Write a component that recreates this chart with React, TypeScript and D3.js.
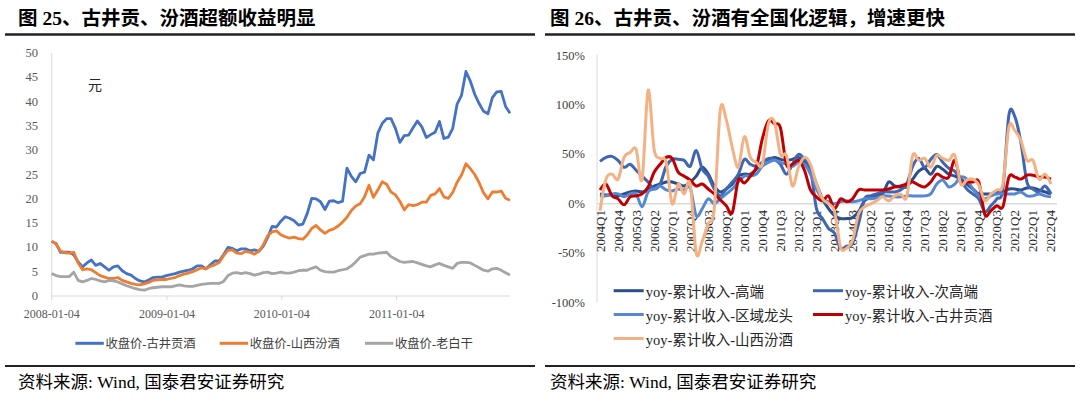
import React from 'react';
import * as d3 from 'd3';

// ---------------- Left chart data (biweekly closing prices, 元) ----------------
const priceStartDate = '2008-01-04';
const priceEndDate = '2011-12-30';
const priceTickLabels = ['2008-01-04', '2009-01-04', '2010-01-04', '2011-01-04'];
const priceYTicks = [0, 5, 10, 15, 20, 25, 30, 35, 40, 45, 50];
const priceSeriesNames = ['收盘价-古井贡酒', '收盘价-山西汾酒', '收盘价-老白干'];

const gujingPrice = [
  11.2, 10.8, 9.0, 9.0, 9.0, 8.5, 7.0, 6.0, 6.8, 7.4, 6.3, 6.7, 6.0, 5.3, 6.0, 6.2,
  5.2, 4.6, 4.3, 3.6, 3.1, 2.9, 3.3, 3.8, 3.9, 3.9, 4.2, 4.4, 4.6, 4.9, 5.1, 5.3,
  5.6, 6.2, 6.2, 5.6, 6.4, 7.2, 7.2, 8.5, 10.0, 9.8, 9.3, 9.7, 9.7, 9.3, 9.5, 9.2,
  10.2, 12.0, 14.3, 14.2, 15.4, 16.3, 16.0, 15.5, 14.6, 14.8, 17.0, 20.1, 20.0, 19.4,
  17.8, 19.5, 19.6, 19.2, 19.5, 26.3, 24.6, 23.5, 25.2, 25.5, 29.0, 28.0, 33.5, 35.5,
  36.5, 36.5, 34.5, 31.6, 33.0, 33.1, 34.6, 36.0, 34.8, 32.6, 33.2, 33.7, 35.9, 32.4,
  32.7, 34.5, 39.5, 41.3, 46.2, 44.2, 41.5, 39.6, 38.0, 37.5, 40.8, 42.0, 42.1, 39.0, 37.6,
];
const fenjiuPrice = [
  11.3, 10.7, 9.2, 8.9, 8.8, 9.0, 6.8, 5.4, 5.6, 5.4, 4.8, 4.2, 3.9, 3.6, 3.6, 3.8,
  3.2, 2.9, 2.6, 2.4, 2.3, 2.5, 2.8, 3.2, 3.3, 3.4, 3.4, 3.6, 3.8, 4.2, 4.5, 4.7,
  5.0, 5.4, 5.8, 5.6, 6.1, 6.4, 6.9, 8.3, 9.4, 9.5, 8.8, 8.7, 9.2, 9.0, 8.6, 9.2,
  10.5, 12.4, 13.2, 13.4, 12.6, 12.2, 11.9, 12.1, 11.8, 11.7, 12.6, 13.9, 14.5, 13.6,
  12.9, 13.5, 13.8, 14.4, 15.2, 16.2, 17.6, 18.5, 19.0, 20.4, 22.8, 20.3, 21.8, 23.5,
  23.0, 21.4, 20.8, 19.5, 17.7, 18.8, 18.6, 18.8, 19.3, 19.3, 20.7, 21.0, 22.1, 20.4,
  20.1, 21.3, 23.4, 24.9, 27.2, 26.2, 25.0, 23.3, 21.2, 20.0, 21.4, 21.4, 21.6, 20.1, 19.7,
];
const laobaiganPrice = [
  4.6, 4.2, 4.0, 4.0, 4.0, 4.9, 3.2, 2.9, 3.2, 3.6, 3.4, 3.1, 2.9, 3.2, 3.1, 2.9,
  2.5, 2.1, 1.8, 1.5, 1.3, 1.2, 1.5, 1.7, 1.8, 1.9, 1.9, 1.9, 2.1, 2.3, 2.1, 2.0,
  2.0, 2.2, 2.4, 2.5, 2.6, 2.6, 2.6, 3.0, 4.2, 4.7, 4.8, 4.6, 4.8, 4.6, 4.3, 4.5,
  4.8, 4.9, 4.6, 4.7, 4.9, 4.7, 4.7, 4.9, 5.2, 5.3, 5.3, 5.7, 6.0, 5.3,
  5.0, 4.9, 4.9, 5.2, 5.4, 5.6, 6.2, 7.0, 8.0, 8.3, 8.6, 8.6, 8.8, 8.9,
  9.0, 8.1, 7.6, 7.1, 6.9, 7.0, 7.1, 6.8, 6.5, 6.2, 6.0, 6.4, 6.7, 6.3,
  6.0, 5.7, 6.7, 6.9, 6.9, 6.8, 6.3, 5.8, 5.3, 5.1, 5.6, 5.7, 5.3, 4.8, 4.3,
];

// ---------------- Right chart data (quarterly cumulative revenue yoy, %) ----------------
const yoyYears = d3.range(2004, 2023);
const yoyQuarterNames = ['Q1', 'Q2', 'Q3', 'Q4'];
const yoyYTicks = [-100, -50, 0, 50, 100, 150];
const yoySeriesNames = [
  'yoy-累计收入-高端',
  'yoy-累计收入-次高端',
  'yoy-累计收入-区域龙头',
  'yoy-累计收入-古井贡酒',
  'yoy-累计收入-山西汾酒',
];
const yoyHighEnd = [
  10, 9, 9, 8, 10, 12, 13, 12, 14, 18, 20, 22, 22, 20, 18, 22,
  28, 37, 30, 18, 12, 15, 20, 28, 30, 30, 35, 42, 45, 47, 45, 44,
  45, 47, 42, 35, 20, 5, -5, -12, -15, -15, -14, -8, 3, 6, 8, 10,
  22, 18, 17, 17, 25, 33, 36, 30, 38, 35, 30, 28, 25, 20, 15, 10,
  10, 10, 12, 12, 15, 15, 14, 16, 16, 14, 12, 10,
];
const yoySubHighEnd = [
  43, 47, 48, 44, 37, 40, 34, 28, 22, 15, 20, 38, 45, 45, 44, 38,
  54, 35, 28, 15, 8, 15, 22, 30, 45, 40, 38, 42, 46, 45, 40, 30,
  40, 50, 45, 35, -5, -15, -25, -30, -45, -43, -40, -20, 5, 8, 10, 12,
  12, 12, 14, 20, 38, 46, 37, 45, 50, 42, 36, 33, 24, 15, 10, 5,
  -8, -2, 5, 15, 90, 88, 62, 22, 15, 12, 18, 10,
];
const yoyRegional = [
  8, 8, 10, 10, 7, 10, 10, -3, 12, 15, 18, 14, 13, 15, 14, 16,
  -12, -5, 5, 0, 5, 10, 15, 22, 28, 28, 30, 38, 42, 44, 42, 40,
  38, 42, 40, 30, 15, 5, 2, 0, 2, 3, 2, 3, 5, 5, 6, 8,
  8, 7, 7, 8, 8, 8, 8, 10, 20, 24, 17, 20, 27, 25, 15, 8,
  5, 8, 10, 10, 10, 10, 12, 8, 8, 10, 8, 7,
];
const yoyGujing = [
  14, 20, 8, 5, -1, 7, 8, 10, 17, 32, 40, 47, 46, 32, 28, 24,
  18, 20, 15, 10, 4, -2, -9, 24, 21, 28, 37, 66, 84, 81, 77, 40,
  40, 44, 34, 14, 7, 3, 8, -5, 5, 2, 5, 14, 14, 14, 14, 14,
  15, 17, 18, 20, 22, 19, 17, 22, 30, 27, 27, 44, 22, 22, 22, 22,
  -11, -7, -2, -3, 27, 27, 25, 29, 29, 27, 27, 25,
];
const yoyFenjiu = [
  -7, 25, 30, 25, 47, 52, 55, 25, 115, 55, 46, 42, 0, 20, 10, 20,
  -50, -38, -20, -5, 95, 85, 57, 37, 68, 47, 42, 40, 81, 83, 50, 49,
  18, 37, 47, 40, 20, 5, 0, -8, -44, -45, -37, -10, -3, 0, 3, 7,
  3, 8, 10, 7, 49, 44, 46, 37, 49, 46, 44, 49, 20, 24, 25, 19,
  3, 10, 14, 20, 78, 74, 64, 44, 44, 25, 30, 20,
];

const priceColors = ['#4472C4', '#ED7D31', '#A5A5A5'];
const yoyColors = ['#2C4D8E', '#3F66B3', '#5588D4', '#C00000', '#F4B183'];

const SERIF = '"Liberation Serif", "Times New Roman", "Noto Sans CJK SC", serif';
const CJK = '"Liberation Serif", "Noto Sans CJK SC", sans-serif';

function LeftChart() {
  const parse = d3.timeParse('%Y-%m-%d');
  const start = parse(priceStartDate) as Date;
  const end = parse(priceEndDate) as Date;
  const dates = gujingPrice.map((_, k) => d3.timeDay.offset(start, 14 * k));
  const x = d3.scaleTime().domain([start, end]).range([51.7, 510]);
  const y = d3.scaleLinear().domain([0, 50]).range([296, 53]);
  const series = [gujingPrice, fenjiuPrice, laobaiganPrice];
  const line = d3
    .line<number>()
    .x((_, i) => x(dates[i]))
    .y((d) => y(d));
  const legendX = [75.4, 219.7, 365];
  return (
    <g>
      <text x={18} y={25} fontFamily={CJK} fontSize={19.5} fontWeight="bold" fill="#000">
        图 25、古井贡、汾酒超额收益明显
      </text>
      <line x1={5} x2={535} y1={34.5} y2={34.5} stroke="#222" strokeWidth={2.5} />
      <line x1={51.7} x2={51.7} y1={y(50)} y2={y(0)} stroke="#d9d9d9" strokeWidth={1} />
      <line x1={51.7} x2={510} y1={y(0)} y2={y(0)} stroke="#d9d9d9" strokeWidth={1} />
      {priceYTicks.map((t) => (
        <text key={t} x={38} y={y(t)} textAnchor="end" dominantBaseline="central" fontFamily={SERIF} fontSize={12.5} fill="#595959">
          {t}
        </text>
      ))}
      {priceTickLabels.map((t) => {
        const xx = x(parse(t) as Date);
        return (
          <g key={t}>
            <line x1={xx} x2={xx} y1={y(0)} y2={y(0) + 4} stroke="#d9d9d9" />
            <text x={xx} y={318} textAnchor="middle" fontFamily={SERIF} fontSize={12} fill="#595959">
              {t}
            </text>
          </g>
        );
      })}
      <text x={88} y={90} fontFamily={CJK} fontSize={14} fill="#262626">元</text>
      {series.map((s, i) => (
        <path key={i} d={line(s) || ''} fill="none" stroke={priceColors[i]} strokeWidth={2.8} strokeLinejoin="round" />
      ))}
      {priceSeriesNames.map((n, i) => (
        <g key={n}>
          <line x1={legendX[i]} x2={legendX[i] + 28.4} y1={343.3} y2={343.3} stroke={priceColors[i]} strokeWidth={3} />
          <text x={legendX[i] + 30} y={344} dominantBaseline="central" fontFamily={CJK} fontSize={12.3} fill="#404040">
            {n}
          </text>
        </g>
      ))}
      <line x1={5} x2={535} y1={366} y2={366} stroke="#222" strokeWidth={2} />
      <text x={18} y={388} fontFamily={CJK} fontSize={17.5} fill="#000">
        资料来源: Wind, 国泰君安证券研究
      </text>
    </g>
  );
}

function RightChart() {
  const quarters: string[] = [];
  yoyYears.forEach((yr) => yoyQuarterNames.forEach((q) => quarters.push(`${yr}${q}`)));
  const x = d3.scaleBand<string>().domain(quarters).range([597, 1054]);
  const xc = (q: string) => (x(q) as number) + x.bandwidth() / 2;
  const y = d3.scaleLinear().domain([-100, 150]).range([302.5, 55.7]);
  const series = [yoyHighEnd, yoySubHighEnd, yoyRegional, yoyGujing, yoyFenjiu];
  const line = d3
    .line<number>()
    .x((_, i) => xc(quarters[i]))
    .y((d) => y(d))
    .curve(d3.curveCardinal.tension(0));
  const legendPos = [
    [613.7, 290.7],
    [813, 290.7],
    [613.7, 314.5],
    [813, 314.5],
    [613.7, 338.5],
  ];
  return (
    <g>
      <text x={550} y={25} fontFamily={CJK} fontSize={19.5} fontWeight="bold" fill="#000">
        图 26、古井贡、汾酒有全国化逻辑，增速更快
      </text>
      <line x1={545} x2={1075} y1={34.5} y2={34.5} stroke="#222" strokeWidth={2.5} />
      <line x1={597} x2={597} y1={55} y2={y(-100)} stroke="#d9d9d9" strokeWidth={1} />
      {yoyYTicks.map((t) => (
        <text key={t} x={585} y={y(t)} textAnchor="end" dominantBaseline="central" fontFamily={SERIF} fontSize={12.5} fill="#404040">
          {`${t}%`}
        </text>
      ))}
      <line x1={597} x2={1057} y1={y(0)} y2={y(0)} stroke="#d9d9d9" strokeWidth={1.5} />
      {quarters.map((q, i) =>
        i % 3 === 0 ? (
          <text
            key={q}
            transform={`translate(${xc(q)},210) rotate(-90)`}
            textAnchor="end"
            dominantBaseline="central"
            fontFamily={SERIF}
            fontSize={13}
            fill="#262626"
          >
            {q}
          </text>
        ) : null
      )}
      {series.map((s, i) => (
        <path key={i} d={line(s) || ''} fill="none" stroke={yoyColors[i]} strokeWidth={3} strokeLinejoin="round" />
      ))}
      {yoySeriesNames.map((n, i) => (
        <g key={n}>
          <line x1={legendPos[i][0]} x2={legendPos[i][0] + 30} y1={legendPos[i][1]} y2={legendPos[i][1]} stroke={yoyColors[i]} strokeWidth={3} />
          <text x={legendPos[i][0] + 32} y={legendPos[i][1] + 1} dominantBaseline="central" fontFamily={CJK} fontSize={14.5} fill="#262626">
            {n}
          </text>
        </g>
      ))}
      <line x1={545} x2={1075} y1={366} y2={366} stroke="#222" strokeWidth={2} />
      <text x={550} y={388} fontFamily={CJK} fontSize={17.5} fill="#000">
        资料来源: Wind, 国泰君安证券研究
      </text>
    </g>
  );
}

export default function App() {
  return (
    <svg
      width={1080}
      height={399}
      viewBox="0 0 1080 399"
      style={{ position: 'absolute', left: 0, top: 0, background: '#fff' }}
    >
      <rect x={0} y={0} width={1080} height={399} fill="#fff" />
      <LeftChart />
      <RightChart />
    </svg>
  );
}
